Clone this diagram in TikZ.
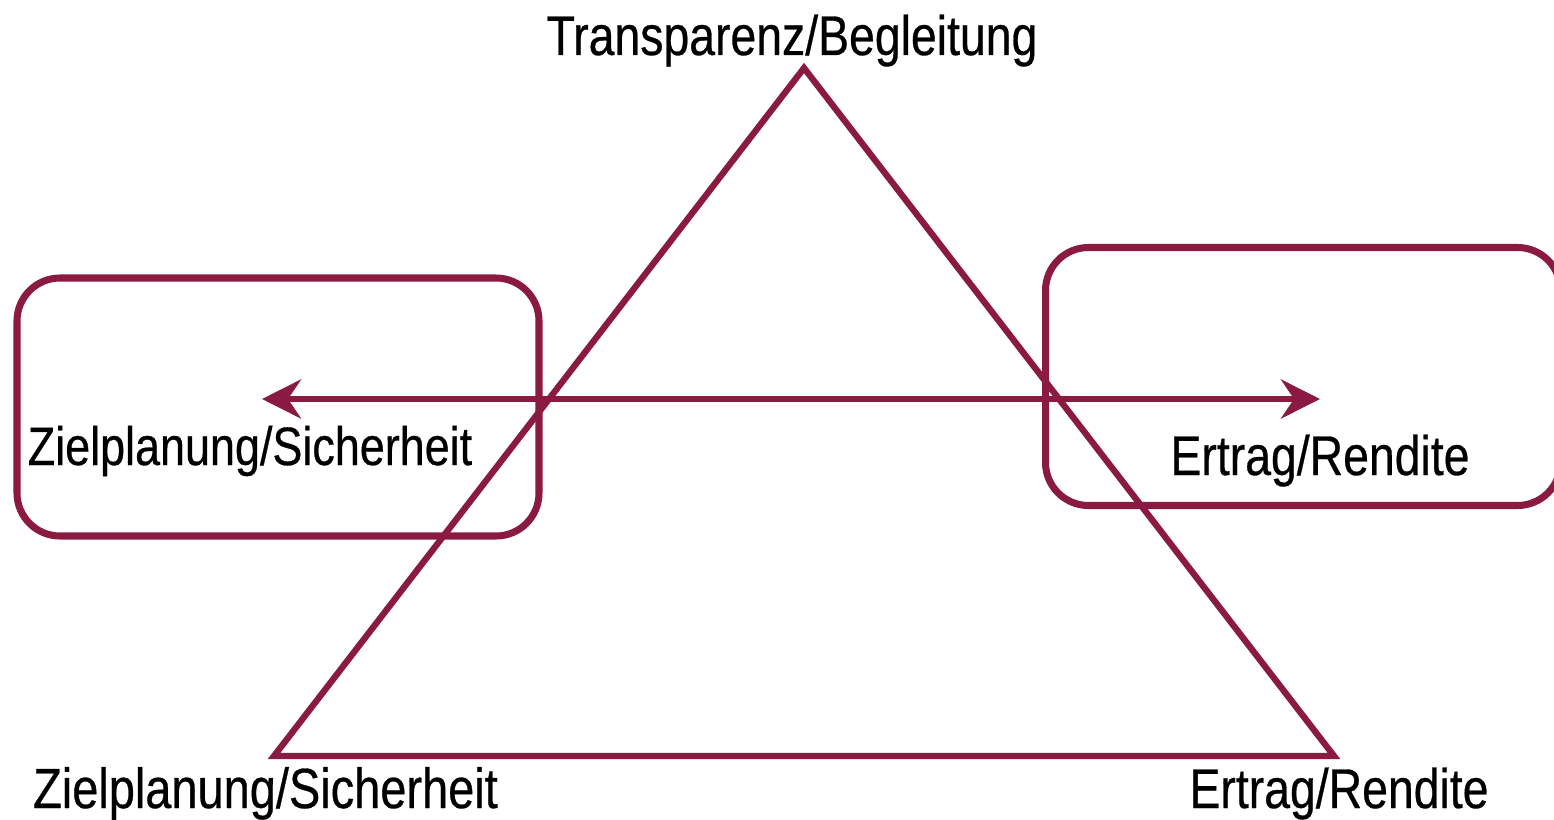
\documentclass[tikz,border=0pt]{standalone}
\usepackage{fontspec}
\setmainfont[FakeStretch=0.83,FakeBold=0.5]{Liberation Sans}
\usepackage{tikz}
\usetikzlibrary{arrows.meta, positioning}
\definecolor{weinrot}{RGB}{138,26,66}

\begin{document}
\begin{tikzpicture}[>={Stealth[length=3.9mm,width=3.9mm,inset=1.3mm]},
  line width=1.8pt,
  label node/.style={anchor=base, inner sep=0, font=\fontsize{15.9}{19}\selectfont},
  box node/.style={rectangle, draw=weinrot, rounded corners=4.3mm, line width=2pt,
  inner sep=0, minimum width=#1, minimum height=2.58cm}]
  \useasboundingbox (0,0) rectangle (15.54,8.19);

  % Ecken des Dreiecks
  \coordinate (TOP) at (8.04,7.51);
  \coordinate (BL) at (2.74,0.63);
  \coordinate (BR) at (13.34,0.63);

  \node[box node=5.22cm] (BOXL) at (2.78,4.12) {};
  \node[box node=5.15cm] (BOXR) at (13.03,4.425) {};

  \node[label node] (T1) at (7.92,7.64) {Transparenz/Begleitung};
  \node[label node] (T2) at (2.50,3.54) {\fontsize{15.4}{19}\selectfont Zielplanung/Sicherheit};
  \node[label node] (T3) at (13.20,3.44) {Ertrag/Rendite};
  \node[label node] (T4) at (2.655,0.11) {\fontsize{16.1}{19}\selectfont Zielplanung/Sicherheit};
  \node[label node] (T5) at (13.39,0.11) {Ertrag/Rendite};

  \coordinate (AL) at (2.62,4.20);
  \coordinate (AR) at (13.20,4.20);

  \draw[weinrot, line join=miter] (TOP) -- (BR) -- (BL) -- cycle;
  \path[weinrot]
     (AL) edge [<->] (AR);
\end{tikzpicture}
\end{document}
